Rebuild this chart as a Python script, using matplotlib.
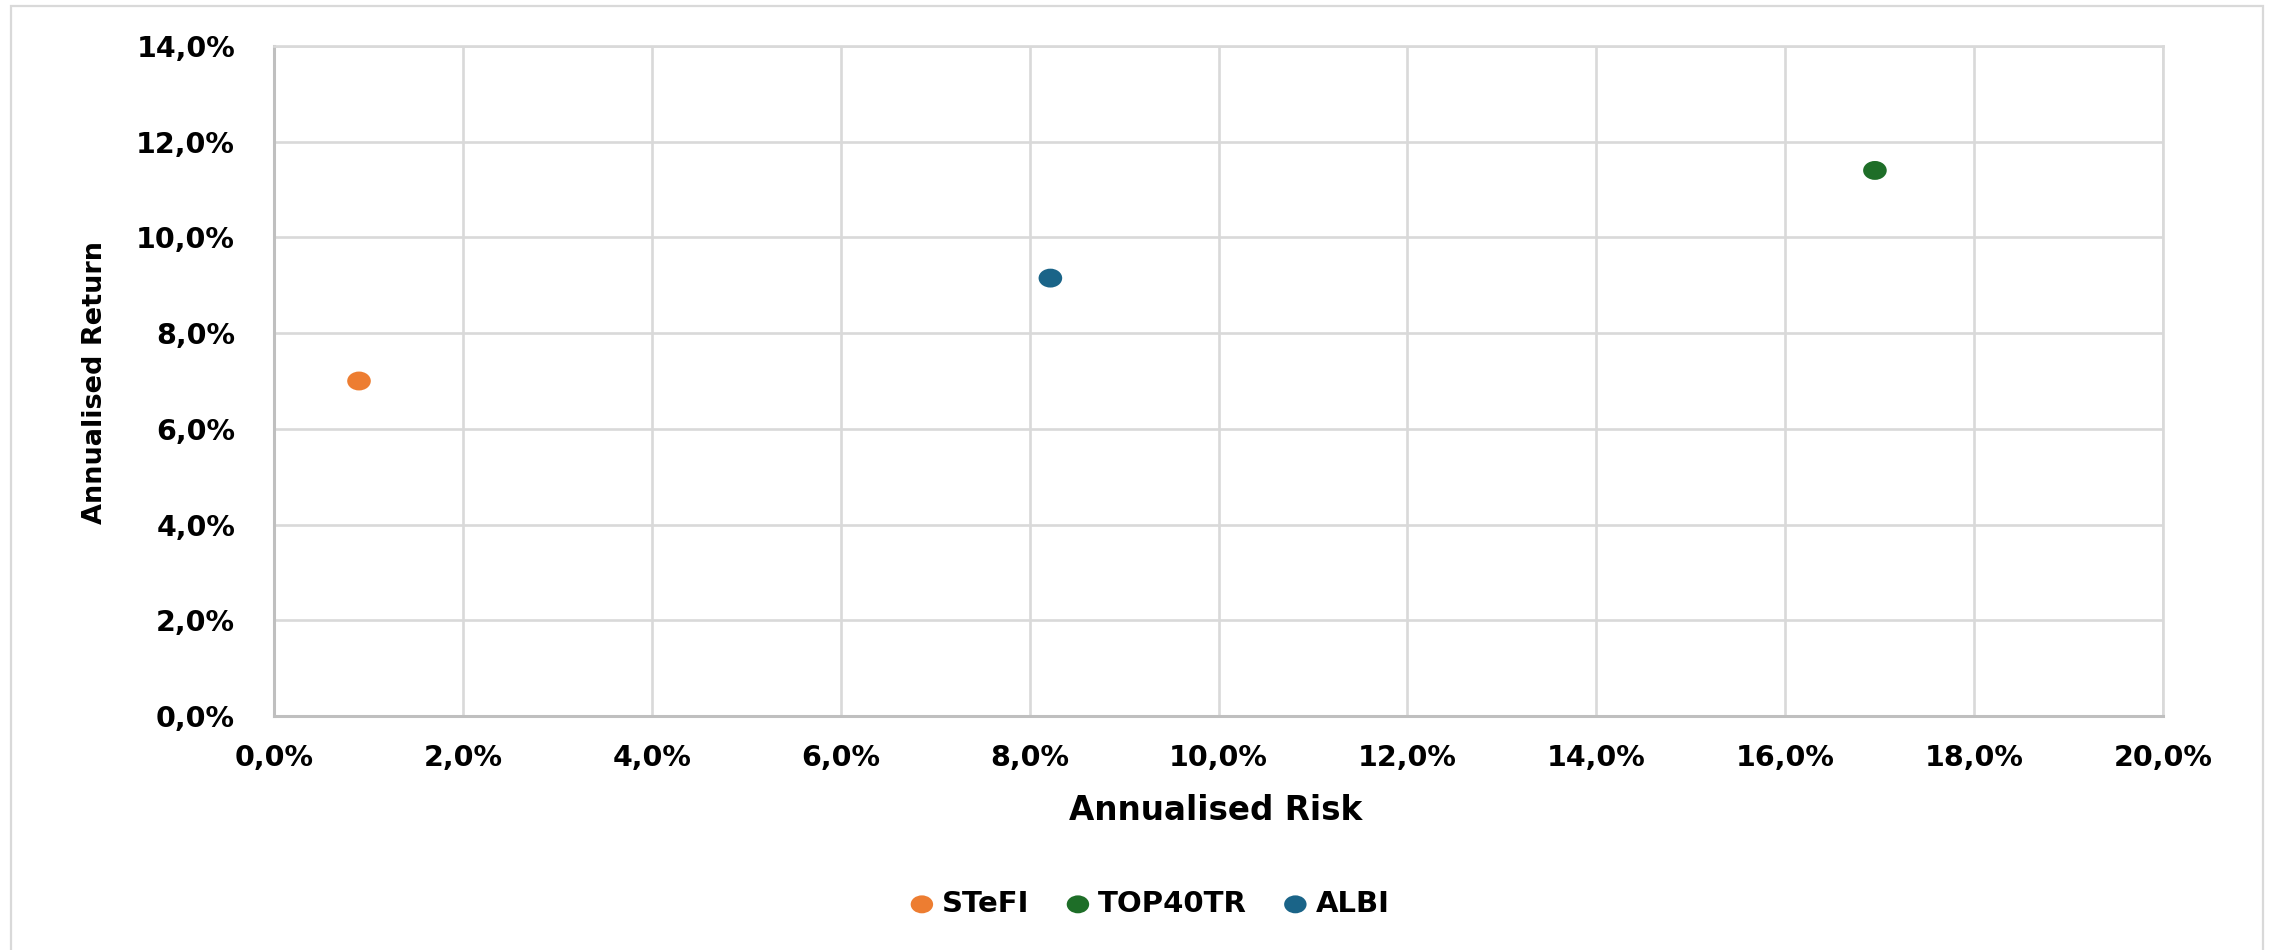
import numpy as np
import matplotlib
matplotlib.use("Agg")
import matplotlib.pyplot as plt
from matplotlib.path import Path
from matplotlib.patches import Rectangle
from matplotlib.ticker import FuncFormatter, MultipleLocator

# Dados (em %)
series = ["STeFI", "TOP40TR", "ALBI"]
risk = [0.9, 16.95, 8.22]
ret = [7.0, 11.4, 9.15]
colors = ["#ED7D31", "#1E6E28", "#1A6488"]

x_max = 20.0
y_max = 14.0

plt.rcParams["font.family"] = ["DejaVu Sans"]
plt.rcParams["font.weight"] = "bold"

# marcador levemente achatado (o original é elíptico)
circ = Path.unit_circle()
ellipse = Path(circ.vertices * np.array([1.25, 1.0]), circ.codes)

fig = plt.figure(figsize=(22.75, 9.5), dpi=100)
ax = fig.add_axes([274 / 2275, 1 - 716 / 950, (2163 - 274) / 2275, (716 - 46) / 950])

for name, x, y, c in zip(series, risk, ret, colors):
    ax.scatter([x], [y], s=17 ** 2, marker=ellipse, color=c, edgecolors="none", label=name, zorder=3)

ax.set_xlim(0, x_max)
ax.set_ylim(0, y_max)
ax.xaxis.set_major_locator(MultipleLocator(2))
ax.yaxis.set_major_locator(MultipleLocator(2))

fmt = FuncFormatter(lambda v, pos: f"{v:.1f}%".replace(".", ","))
ax.xaxis.set_major_formatter(fmt)
ax.yaxis.set_major_formatter(fmt)

ax.grid(True, color="#D9D9D9", linewidth=1.9, zorder=0)
ax.set_axisbelow(True)
for side in ["top", "right"]:
    ax.spines[side].set_color("#D9D9D9")
    ax.spines[side].set_linewidth(1.9)
for side in ["left", "bottom"]:
    ax.spines[side].set_color("#BFBFBF")
    ax.spines[side].set_linewidth(2.2)

ax.tick_params(axis="both", length=0, labelsize=20.5, colors="black")
ax.tick_params(axis="y", pad=28)
ax.tick_params(axis="x", pad=20)
for lbl in ax.get_xticklabels() + ax.get_yticklabels():
    lbl.set_fontweight("bold")

fig.text(1216 / 2275, 1 - 810 / 950, "Annualised Risk", ha="center", va="center",
         fontsize=23.5, fontweight="bold")
fig.text(95 / 2275, 1 - 382 / 950, "Annualised Return", ha="center", va="center",
         rotation=90, fontsize=19.5, fontweight="bold")

leg = fig.legend(loc="center", bbox_to_anchor=(1150 / 2275, 1 - 904 / 950), ncol=3, frameon=False,
                 fontsize=21, handlelength=0.8, handletextpad=0.3, columnspacing=1.25,
                 scatterpoints=1, markerscale=0.95)
for t in leg.get_texts():
    t.set_fontweight("bold")

# moldura externa do gráfico
fig.patches.append(Rectangle((11 / 2275, -0.05), (2263 - 11) / 2275, 1.05 - 6 / 950,
                             transform=fig.transFigure, fill=False, edgecolor="#D9D9D9",
                             linewidth=1.6, zorder=0))

fig.savefig("out.png", dpi=100, facecolor="white")
